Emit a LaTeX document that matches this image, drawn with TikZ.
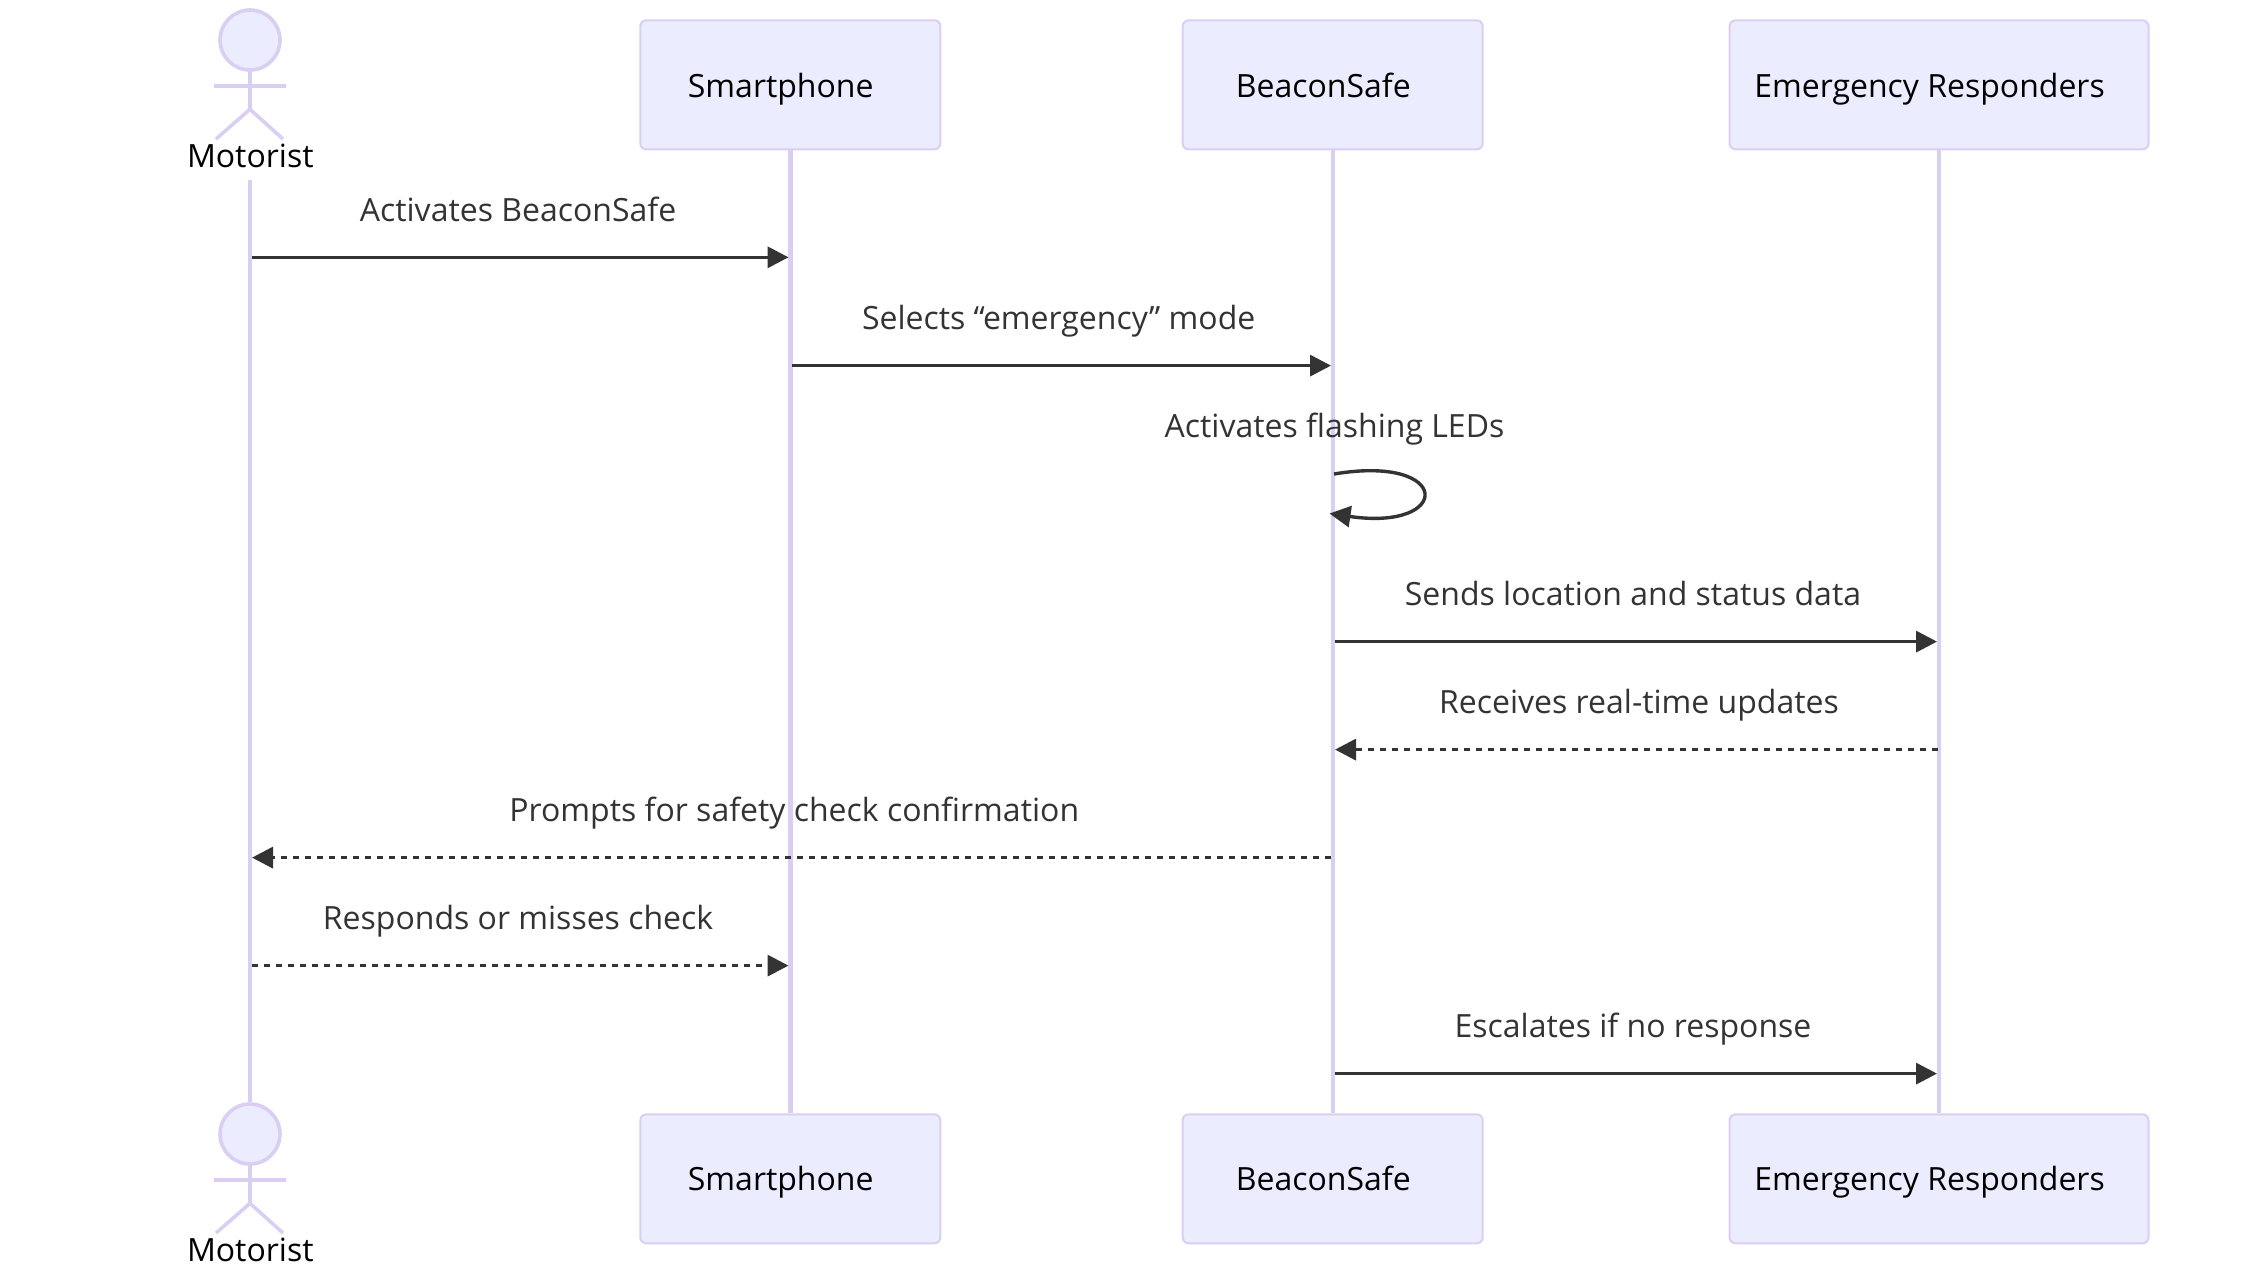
\documentclass[tikz,border=0pt]{standalone}
\usepackage{fontspec}
\usepackage{xcolor}
\usetikzlibrary{arrows.meta}
\setmainfont{Open Sans}
\definecolor{actorFill}{HTML}{ECECFF}
\definecolor{actorLine}{HTML}{DACEF3}
\definecolor{msgDark}{HTML}{333333}
\tikzset{
  actorbox/.style={draw=actorLine, fill=actorFill, line width=1pt, rounded corners=3pt,
    minimum height=64.5pt, inner sep=0pt},
  actorhead/.style={circle, draw=actorLine, fill=actorFill, line width=1.8pt,
    minimum size=30pt, inner sep=0pt},
  actorlimb/.style={draw=actorLine, line width=1.8pt},
  lifeline/.style={draw=actorLine, line width=2.2pt},
  actortext/.style={anchor=base, text=black, font=\fontsize{16}{19}\selectfont, inner sep=0pt},
  msgtext/.style={anchor=base, text=msgDark, font=\fontsize{16}{19}\selectfont, inner sep=0pt, yshift=18.1pt},
  msg/.style={draw=msgDark, line width=1.7pt, -{Triangle[length=10.5pt, width=10.5pt]}},
  msgdash/.style={msg, dash pattern=on 3pt off 3pt},
}

\begin{document}
\begin{tikzpicture}[x=0.5pt, y=-0.5pt]
  \useasboundingbox (0,0) rectangle (2248,1266);

  % top row
  \node[actorhead] (motoristHead) at (250,40) {};
  \node[actortext] (motoristText) at (250.3,167.4) {Motorist};
  \coordinate (motoristStart) at (250,180);
  \node[actorbox, minimum width=150pt] (smartTop) at (790.3,84.8) {};
  \node[actortext] (smartTopText) at (780.7,97.7) {Smartphone};
  \node[actorbox, minimum width=150pt] (beaconTop) at (1332.7,84.8) {};
  \node[actortext] (beaconTopText) at (1323.3,97.7) {BeaconSafe};
  \node[actorbox, minimum width=209.5pt] (emergTop) at (1939,84.8) {};
  \node[actortext] (emergTopText) at (1929.5,97.7) {Emergency Responders};

  % bottom row
  \node[actorhead] (motoristFoot) at (250,1134) {};
  \node[actortext] (motoristFootText) at (250.3,1261.4) {Motorist};
  \node[actorbox, minimum width=150pt] (smartBottom) at (790.3,1178.8) {};
  \node[actortext] (smartBottomText) at (780.7,1190.7) {Smartphone};
  \node[actorbox, minimum width=150pt] (beaconBottom) at (1332.7,1178.8) {};
  \node[actortext] (beaconBottomText) at (1323.3,1190.7) {BeaconSafe};
  \node[actorbox, minimum width=209.5pt] (emergBottom) at (1939,1178.8) {};
  \node[actortext] (emergBottomText) at (1929.5,1190.7) {Emergency Responders};

  % stick figures
  \draw[actorlimb] (motoristHead) -- ++(0,69.3) coordinate (hipTop)
    (214,86) -- (286,86)
    (216,139) -- (hipTop) -- (283,139);
  \draw[actorlimb] (motoristFoot) -- ++(0,69.3) coordinate (hipBottom)
    (214,1180) -- (286,1180)
    (216,1233) -- (hipBottom) -- (283,1233);

  % lifelines
  \draw[lifeline] (motoristStart) -- (motoristFoot);
  \draw[lifeline] (smartTop) -- (smartBottom);
  \draw[lifeline] (beaconTop) -- (beaconBottom);
  \draw[lifeline] (emergTop) -- (emergBottom);

  % messages
  \coordinate (motorist1) at (252,257.3);
  \coordinate (smart1) at (788.5,257.3);
  \draw[msg] (motorist1) -- node[msgtext, xshift=-1.1pt] (label1) {Activates BeaconSafe} (smart1);
  \coordinate (smart2) at (792,365.6);
  \coordinate (beacon2) at (1331,365.6);
  \draw[msg] (smart2) -- node[msgtext, xshift=-1.4pt] (label2) {Selects “emergency” mode} (beacon2);
  \coordinate (selfStart) at (1334,474);
  \coordinate (selfEnd) at (1329.5,513.5);
  \draw[msg] (selfStart) .. controls +(119,-20) and +(123,18) .. (selfEnd);
  \node[msgtext, yshift=-18.1pt] (label3) at (1334.5,437.3) {Activates flashing LEDs};
  \coordinate (beacon4) at (1334.5,641.6);
  \coordinate (emerg4) at (1937,641.6);
  \draw[msg] (beacon4) -- node[msgtext, xshift=-1.4pt] (label4) {Sends location and status data} (emerg4);
  \coordinate (emerg5) at (1937.5,749.6);
  \coordinate (beacon5) at (1335,749.6);
  \draw[msgdash] (emerg5) -- node[msgtext, xshift=1.4pt] (label5) {Receives real-time updates} (beacon5);
  \coordinate (beacon6) at (1331,857.6);
  \coordinate (motorist6) at (252,857.6);
  \draw[msgdash] (beacon6) -- node[msgtext, xshift=1.4pt] (label6) {Prompts for safety check confirmation} (motorist6);
  \coordinate (motorist7) at (252,965.6);
  \coordinate (smart7) at (788.5,965.6);
  \draw[msgdash] (motorist7) -- node[msgtext, xshift=-1.1pt] (label7) {Responds or misses check} (smart7);
  \coordinate (beacon8) at (1334.5,1073.6);
  \coordinate (emerg8) at (1937,1073.6);
  \draw[msg] (beacon8) -- node[msgtext, xshift=-1.4pt] (label8) {Escalates if no response} (emerg8);
\end{tikzpicture}
\end{document}
